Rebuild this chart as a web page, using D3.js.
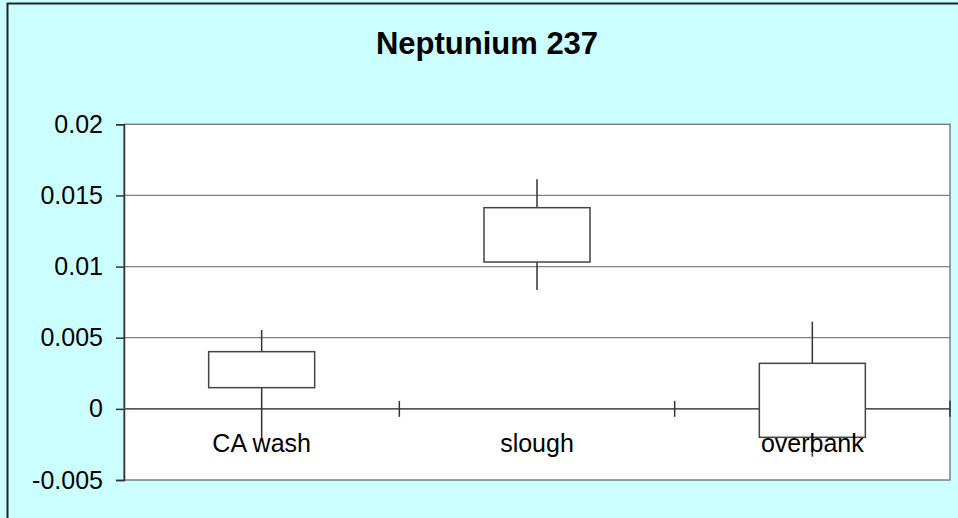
<!DOCTYPE html>
<html>
<head>
<meta charset="utf-8">
<script src="https://cdn.jsdelivr.net/npm/d3@7"></script>
<style>
  html, body { margin: 0; padding: 0; background: #ccffff; overflow: hidden; }
  text { font-family: "Liberation Sans", Arial, sans-serif; fill: #000; }
</style>
</head>
<body>
<svg id="chart"></svg>
<script>
// data
const categories = ['CA wash', 'slough', 'overbank'];
const whiskerHigh = [0.00554, 0.01613, 0.00613];
const boxTop = [0.00402, 0.01414, 0.0032];
const boxBottom = [0.00149, 0.01032, -0.0020];
const whiskerLow = [-0.00205, 0.00835, -0.00336];
const yTicks = [-0.005, 0, 0.005, 0.01, 0.015, 0.02];

const w = 958, h = 518;
const plot = { left: 124, top: 124.3, right: 950, bottom: 480 };

const svg = d3.select('#chart').attr('width', w).attr('height', h);

// chart area background + border (runs off the right/bottom edge)
svg.append('rect')
  .attr('x', 7.5).attr('y', 3.5).attr('width', 1000).attr('height', 1000)
  .attr('fill', '#ccffff').attr('stroke', '#222').attr('stroke-width', 2);

svg.append('text')
  .attr('x', 487).attr('y', 54.3)
  .attr('text-anchor', 'middle')
  .style('font-size', '31px').style('font-weight', 'bold')
  .text('Neptunium 237');

const x = d3.scaleBand().domain(categories).range([plot.left, plot.right]);
const y = d3.scaleLinear().domain([-0.005, 0.02]).range([plot.bottom, plot.top]);

// plot area
svg.append('rect')
  .attr('x', plot.left).attr('y', plot.top)
  .attr('width', plot.right - plot.left).attr('height', plot.bottom - plot.top)
  .attr('fill', '#fff').attr('stroke', '#808080').attr('stroke-width', 1.5);

// gridlines
svg.append('g').selectAll('line')
  .data(yTicks.filter(d => d !== -0.005 && d !== 0.02))
  .join('line')
  .attr('x1', plot.left).attr('x2', plot.right)
  .attr('y1', d => y(d)).attr('y2', d => y(d))
  .attr('stroke', '#808080').attr('stroke-width', 1.2);

// y axis (plain hyphen for the negative label, like the original)
const yAxis = svg.append('g')
  .attr('transform', `translate(${plot.left},0)`)
  .call(d3.axisLeft(y).tickValues(yTicks).tickSize(8).tickPadding(13)
    .tickFormat(d => String(+d.toFixed(3))));
yAxis.select('.domain').attr('stroke', '#333').attr('stroke-width', 1.5);
yAxis.selectAll('.tick line').attr('stroke', '#333').attr('stroke-width', 1.5);
yAxis.selectAll('.tick text')
  .style('font-size', '25px').attr('fill', '#000')
  .style('font-family', '"Liberation Sans", Arial, sans-serif');

// category axis crosses at zero
svg.append('line')
  .attr('x1', plot.left).attr('x2', plot.right)
  .attr('y1', y(0)).attr('y2', y(0))
  .attr('stroke', '#555').attr('stroke-width', 1.5);
svg.append('g').selectAll('line')
  .data(categories)
  .join('line')
  .attr('x1', d => x(d) + x.bandwidth()).attr('x2', d => x(d) + x.bandwidth())
  .attr('y1', y(0) - 8).attr('y2', y(0) + 8)
  .attr('stroke', '#333').attr('stroke-width', 1.5);

const idx = d3.range(categories.length);
const cx = i => x(categories[i]) + x.bandwidth() / 2;
const boxW = 106;

// whiskers
svg.append('g').selectAll('line')
  .data(idx)
  .join('line')
  .attr('x1', cx).attr('x2', cx)
  .attr('y1', i => y(whiskerHigh[i])).attr('y2', i => y(whiskerLow[i]))
  .attr('stroke', '#333').attr('stroke-width', 1.5);

// boxes
svg.append('g').selectAll('rect')
  .data(idx)
  .join('rect')
  .attr('x', i => cx(i) - boxW / 2)
  .attr('width', boxW)
  .attr('y', i => y(boxTop[i]))
  .attr('height', i => y(boxBottom[i]) - y(boxTop[i]))
  .attr('fill', '#fff').attr('stroke', '#444').attr('stroke-width', 1.5);

// category labels
svg.append('g').selectAll('text')
  .data(categories)
  .join('text')
  .attr('x', d => x(d) + x.bandwidth() / 2)
  .attr('y', 452)
  .attr('text-anchor', 'middle')
  .style('font-size', '25px')
  .text(d => d);
</script>
</body>
</html>
